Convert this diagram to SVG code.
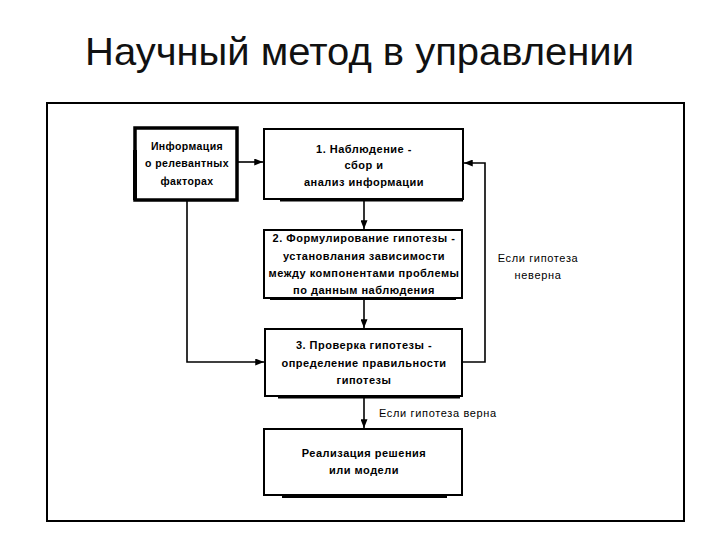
<svg xmlns="http://www.w3.org/2000/svg" width="720" height="540" viewBox="0 0 720 540">
<style>
.title{font-family:"Liberation Sans","Arial",sans-serif;font-size:39px;fill:#111}
.bx{fill:#fff;stroke:#000;stroke-width:2}
.sh{fill:#000}
.t{font-family:"Liberation Sans","Arial",sans-serif;font-size:11px;font-weight:bold;fill:#000;text-anchor:middle;letter-spacing:0.5px}
.ti{font-family:"Liberation Sans","Arial",sans-serif;font-size:10.5px;font-weight:bold;fill:#000;text-anchor:middle;letter-spacing:0.4px}
.lb{font-family:"Liberation Sans","Arial",sans-serif;font-size:11px;fill:#000;letter-spacing:0.65px}
.ln{fill:none;stroke:#000;stroke-width:1.6}
</style>
<defs>
<marker id="ah" viewBox="0 0 10 8" refX="10" refY="4" markerWidth="9" markerHeight="7" markerUnits="userSpaceOnUse" orient="auto">
<path d="M0,0 L10,4 L0,8 Z" fill="#000"/>
</marker>
</defs>
<rect width="720" height="540" fill="#fff"/>
<text class="title" x="85" y="65" textLength="549" lengthAdjust="spacingAndGlyphs">Научный метод в управлении</text>
<rect x="47" y="103" width="637" height="418" fill="none" stroke="#000" stroke-width="2"/>

<g id="connectors">
<line class="ln" x1="238" y1="162" x2="263" y2="162" marker-end="url(#ah)"/>
<line class="ln" x1="364" y1="201" x2="364" y2="229" marker-end="url(#ah)"/>
<line class="ln" x1="364" y1="300" x2="364" y2="328" marker-end="url(#ah)"/>
<polyline class="ln" points="187,201 187,362 264,362" marker-end="url(#ah)"/>
<polyline class="ln" points="462,362 485,362 485,163 464,163" marker-end="url(#ah)"/>
<line class="ln" x1="364" y1="398" x2="364" y2="428" marker-end="url(#ah)"/>
<text class="lb" x="379" y="417">Если гипотеза верна</text>
<text class="lb" x="538" y="262" text-anchor="middle">Если гипотеза</text>
<text class="lb" x="538" y="279" text-anchor="middle">неверна</text>
</g>

<g id="info">
<rect x="135" y="128" width="102" height="72" fill="#fff" stroke="#000" stroke-width="3.5"/>
<rect class="sh" x="133" y="150" width="4" height="50"/>
<text class="ti" x="187" y="150">Информация</text>
<text class="ti" x="187" y="167">о релевантных</text>
<text class="ti" x="187" y="185">факторах</text>
</g>

<g id="box1">
<rect class="bx" x="264" y="129" width="199" height="70"/>
<rect class="sh" x="280" y="198" width="183" height="3.5"/>
<text class="t" x="364" y="153">1. Наблюдение -</text>
<text class="t" x="364" y="169">сбор и</text>
<text class="t" x="364" y="186">анализ информации</text>
</g>

<g id="box2">
<rect class="bx" x="264" y="230" width="198" height="68"/>
<rect class="sh" x="270" y="297" width="186" height="3"/>
<text class="t" x="364" y="242">2. Формулирование гипотезы -</text>
<text class="t" x="364" y="260">установлания зависимости</text>
<text class="t" x="364" y="277">между компонентами проблемы</text>
<text class="t" x="364" y="294">по данным наблюдения</text>
</g>

<g id="box3">
<rect class="bx" x="265" y="329" width="197" height="67"/>
<rect class="sh" x="278" y="395" width="182" height="3.5"/>
<text class="t" x="364" y="349">3. Проверка гипотезы -</text>
<text class="t" x="364" y="367">определение правильности</text>
<text class="t" x="364" y="384">гипотезы</text>
</g>

<g id="box4">
<rect class="bx" x="264" y="429" width="198" height="66"/>
<rect class="sh" x="282" y="494" width="165" height="4"/>
<text class="t" x="364" y="457">Реализация решения</text>
<text class="t" x="364" y="474">или модели</text>
</g>
</svg>
